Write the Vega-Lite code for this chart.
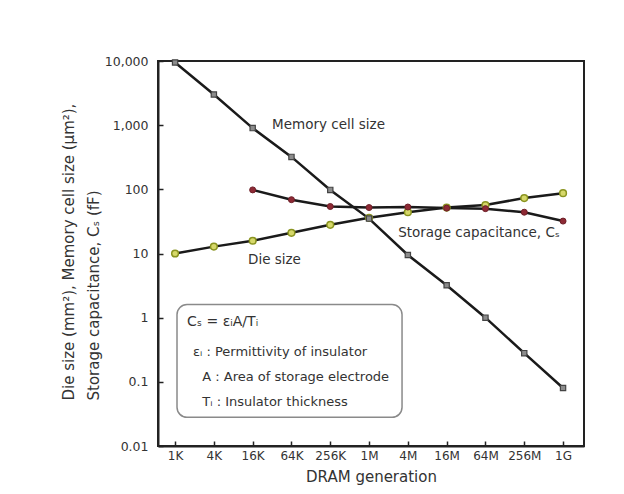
{
  "$schema": "https://vega.github.io/schema/vega-lite/v6.json",
  "autosize": {"type": "none"},
  "padding": {"left": 158, "top": 61, "right": 40, "bottom": 48},
  "width": 426,
  "height": 385,
  "background": "#ffffff",
  "config": {
    "font": "DejaVu Sans",
    "view": {"stroke": "#222222", "strokeWidth": 2},
    "axis": {
      "domainColor": "#222222", "domainWidth": 2,
      "tickColor": "#222222", "tickWidth": 1.5, "tickSize": -5,
      "grid": false, "labelColor": "#333333", "titleColor": "#333333",
      "labelFont": "DejaVu Sans", "titleFont": "DejaVu Sans", "titleFontWeight": "normal"
    }
  },
  "datasets": {
    "series": [
      {"i": 0, "series": "memory", "v": 9500},
      {"i": 1, "series": "memory", "v": 3000},
      {"i": 2, "series": "memory", "v": 900},
      {"i": 3, "series": "memory", "v": 320},
      {"i": 4, "series": "memory", "v": 98},
      {"i": 5, "series": "memory", "v": 35},
      {"i": 6, "series": "memory", "v": 9.5},
      {"i": 7, "series": "memory", "v": 3.2},
      {"i": 8, "series": "memory", "v": 1},
      {"i": 9, "series": "memory", "v": 0.28},
      {"i": 10, "series": "memory", "v": 0.08},
      {"i": 0, "series": "die", "v": 10},
      {"i": 1, "series": "die", "v": 12.8},
      {"i": 2, "series": "die", "v": 15.8},
      {"i": 3, "series": "die", "v": 21},
      {"i": 4, "series": "die", "v": 28},
      {"i": 5, "series": "die", "v": 36},
      {"i": 6, "series": "die", "v": 44},
      {"i": 7, "series": "die", "v": 52},
      {"i": 8, "series": "die", "v": 57},
      {"i": 9, "series": "die", "v": 73},
      {"i": 10, "series": "die", "v": 87},
      {"i": 2, "series": "storage", "v": 98},
      {"i": 3, "series": "storage", "v": 69},
      {"i": 4, "series": "storage", "v": 54},
      {"i": 5, "series": "storage", "v": 52},
      {"i": 6, "series": "storage", "v": 53},
      {"i": 7, "series": "storage", "v": 51},
      {"i": 8, "series": "storage", "v": 50},
      {"i": 9, "series": "storage", "v": 44},
      {"i": 10, "series": "storage", "v": 32}
    ],
    "labels": [
      {"i": 2.5, "v": 1000, "text": "Memory cell size"},
      {"i": 5.75, "v": 21, "text": "Storage capacitance, Cₛ"},
      {"i": 1.88, "v": 8, "text": "Die size"}
    ],
    "formula": [
      {"i": 0.31, "v": 0.87, "text": "Cₛ = εᵢA/Tᵢ"}
    ],
    "boxtext": [
      {"i": 0.46, "v": 0.295, "text": "εᵢ : Permittivity of insulator"},
      {"i": 0.7, "v": 0.12, "text": "A : Area of storage electrode"},
      {"i": 0.7, "v": 0.048, "text": "Tᵢ : Insulator thickness"}
    ],
    "box": [
      {"x1": 0.05, "x2": 5.85, "y1": 1.6, "y2": 0.028}
    ]
  },
  "layer": [
    {
      "data": {"name": "box"},
      "mark": {"type": "rect", "fill": "#ffffff", "stroke": "#8a8a8a", "strokeWidth": 1.5, "cornerRadius": 10},
      "encoding": {
        "x": {"field": "x1", "type": "quantitative", "scale": {"domain": [-0.44, 10.54], "nice": false, "zero": false},
              "axis": {"values": [0,1,2,3,4,5,6,7,8,9,10], "labelExpr": "['1K','4K','16K','64K','256K','1M','4M','16M','64M','256M','1G'][datum.value]", "title": "DRAM generation", "labelFontSize": 12, "titleFontSize": 15, "labelPadding": 9, "titlePadding": 8}},
        "x2": {"field": "x2"},
        "y": {"field": "y1", "type": "quantitative", "scale": {"type": "log", "domain": [0.01, 10000], "nice": false},
              "axis": {"values": [0.01, 0.1, 1, 10, 100, 1000, 10000], "labelExpr": "datum.value >= 1 ? format(datum.value, ',') : toString(datum.value)", "labelFontSize": 12.5, "labelPadding": 15,
                       "title": ["Die size (mm²), Memory cell size (μm²),", "Storage capacitance, Cₛ (fF)"], "titleFontSize": 15, "titleAlign": "left", "titleAngle": -90, "titleBaseline": "alphabetic", "titleX": -85, "titleY": 339, "titleLineHeight": 25}},
        "y2": {"field": "y2"}
      }
    },
    {
      "data": {"name": "series"},
      "mark": {"type": "line", "stroke": "#1a1a1a", "strokeWidth": 2.5},
      "encoding": {
        "x": {"field": "i", "type": "quantitative"},
        "y": {"field": "v", "type": "quantitative"},
        "detail": {"field": "series"},
        "order": {"field": "i"}
      }
    },
    {
      "data": {"name": "series"},
      "transform": [{"filter": "datum.series === 'die'"}],
      "mark": {"type": "point", "shape": "circle", "filled": true, "fill": "#d6d86a", "stroke": "#8a9420", "strokeWidth": 1.5, "size": 45, "opacity": 1},
      "encoding": {
        "x": {"field": "i", "type": "quantitative"},
        "y": {"field": "v", "type": "quantitative"}
      }
    },
    {
      "data": {"name": "series"},
      "transform": [{"filter": "datum.series === 'storage'"}],
      "mark": {"type": "point", "shape": "circle", "filled": true, "fill": "#8e2a35", "stroke": "#6e1f28", "strokeWidth": 1, "size": 36, "opacity": 1},
      "encoding": {
        "x": {"field": "i", "type": "quantitative"},
        "y": {"field": "v", "type": "quantitative"}
      }
    },
    {
      "data": {"name": "series"},
      "transform": [{"filter": "datum.series === 'memory'"}],
      "mark": {"type": "point", "shape": "square", "filled": true, "fill": "#8c8c8c", "stroke": "#444444", "strokeWidth": 1.2, "size": 28, "opacity": 1},
      "encoding": {
        "x": {"field": "i", "type": "quantitative"},
        "y": {"field": "v", "type": "quantitative"}
      }
    },
    {
      "data": {"name": "labels"},
      "mark": {"type": "text", "align": "left", "baseline": "middle", "fontSize": 13.5, "fill": "#333333"},
      "encoding": {
        "x": {"field": "i", "type": "quantitative"},
        "y": {"field": "v", "type": "quantitative"},
        "text": {"field": "text"}
      }
    },
    {
      "data": {"name": "formula"},
      "mark": {"type": "text", "align": "left", "baseline": "middle", "fontSize": 14, "fill": "#333333"},
      "encoding": {
        "x": {"field": "i", "type": "quantitative"},
        "y": {"field": "v", "type": "quantitative"},
        "text": {"field": "text"}
      }
    },
    {
      "data": {"name": "boxtext"},
      "mark": {"type": "text", "align": "left", "baseline": "middle", "fontSize": 13, "fill": "#333333"},
      "encoding": {
        "x": {"field": "i", "type": "quantitative"},
        "y": {"field": "v", "type": "quantitative"},
        "text": {"field": "text"}
      }
    }
  ]
}
